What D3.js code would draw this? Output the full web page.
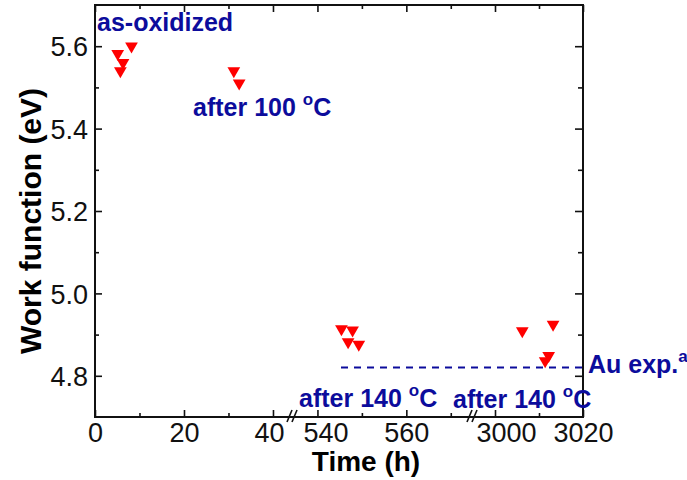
<!DOCTYPE html>
<html>
<head>
<meta charset="utf-8">
<script src="https://cdn.jsdelivr.net/npm/d3@7"></script>
<style>
  html, body { margin: 0; padding: 0; background: #fff; }
  svg { display: block; }
  text { font-family: "Liberation Sans", Arial, sans-serif; }
</style>
</head>
<body>
<svg id="chart" width="687" height="480"></svg>
<script>
// ---- data ----
const timeH = [5.1, 8.2, 6.3, 5.7, 31.2, 32.4, 545.4, 547.9, 546.9, 549.3, 3006.2, 3013.2, 3012.2, 3011.4];
const workFunction = [5.582, 5.600, 5.560, 5.540, 5.540, 5.510, 4.914, 4.911, 4.882, 4.876, 4.909, 4.925, 4.849, 4.836];
const auExpValue = 4.82;
const auExpStart = 545.3;
const xBreaks = [0, 44.5, 534.5, 575, 2995, 3020];
const xMajorTicks = [0, 20, 40, 540, 560, 3000, 3020];
const xMinorTicks = [10, 30, 550, 570, 3010];
const yMajorTicks = [4.8, 5.0, 5.2, 5.4, 5.6];
const yMinorTicks = [4.9, 5.1, 5.3, 5.5];
const yDomain = [4.7, 5.7];
const annotations = [
  {text: "as-oxidized", x: 97, y: 31},
  {text: "after 100 ", deg: true, x: 193, y: 116},
  {text: "after 140 ", deg: true, x: 299, y: 407},
  {text: "after 140 ", deg: true, x: 453, y: 408}
];
const auLabel = "Au exp.";
const xTitle = "Time (h)";
const yTitle = "Work function (eV)";

// ---- layout ----
const L = 95, R = 583, T = 5, B = 417;
const navy = "#0c0c9c";
const labelShift = {40: -4, 540: 8, 3000: 11};

const svg = d3.select("#chart");
const x = d3.scaleLinear().domain(xBreaks).range([L, 293, 293, 473, 473, R]);
const y = d3.scaleLinear().domain(yDomain).range([B, T]);

// axes (ticks inward)
function fmtX(d) { return String(d); }
const gB = svg.append("g").attr("transform", `translate(0,${B})`)
  .call(d3.axisBottom(x).tickValues(xMajorTicks).tickSize(-7).tickPadding(0).tickFormat(fmtX));
gB.selectAll("text").attr("dy", null).attr("y", 25)
  .attr("transform", d => `translate(${labelShift[d] || 0},0)`);
const gBm = svg.append("g").attr("transform", `translate(0,${B})`)
  .call(d3.axisBottom(x).tickValues(xMinorTicks).tickSize(-4).tickFormat(""));
const gT = svg.append("g").attr("transform", `translate(0,${T})`)
  .call(d3.axisTop(x).tickValues(xMajorTicks).tickSize(-7).tickFormat(""));
const gTm = svg.append("g").attr("transform", `translate(0,${T})`)
  .call(d3.axisTop(x).tickValues(xMinorTicks).tickSize(-4).tickFormat(""));
const gL = svg.append("g").attr("transform", `translate(${L},0)`)
  .call(d3.axisLeft(y).tickValues(yMajorTicks).tickSize(-7).tickPadding(7).tickFormat(d3.format(".1f")));
const gLm = svg.append("g").attr("transform", `translate(${L},0)`)
  .call(d3.axisLeft(y).tickValues(yMinorTicks).tickSize(-4).tickFormat(""));
const gR = svg.append("g").attr("transform", `translate(${R},0)`)
  .call(d3.axisRight(y).tickValues(yMajorTicks).tickSize(-8).tickFormat(""));
const gRm = svg.append("g").attr("transform", `translate(${R},0)`)
  .call(d3.axisRight(y).tickValues(yMinorTicks).tickSize(-5).tickFormat(""));

[gB, gBm, gT, gTm, gL, gLm, gR, gRm].forEach(g => {
  g.selectAll(".domain").remove();
  g.selectAll("line").attr("stroke", "#111").attr("stroke-width", 1.6);
  g.selectAll("text").attr("font-size", 27).attr("fill", "#111")
    .attr("font-family", "'Liberation Sans', Arial, sans-serif");
});
gL.selectAll("text").attr("dy", "0.36em");

// frame
svg.append("rect").attr("x", L).attr("y", T).attr("width", R - L).attr("height", B - T)
  .attr("fill", "none").attr("stroke", "#111").attr("stroke-width", 2);

// break marks
[x(44.5), x(575)].forEach(bx => {
  [-3, 2].forEach(o => {
    svg.append("line").attr("x1", bx + o - 3).attr("y1", B + 5).attr("x2", bx + o + 2).attr("y2", B - 7)
      .attr("stroke", "#111").attr("stroke-width", 1.6);
  });
});

// Au reference line
svg.append("line").attr("x1", x(auExpStart)).attr("x2", R)
  .attr("y1", y(auExpValue)).attr("y2", y(auExpValue))
  .attr("stroke", navy).attr("stroke-width", 2).attr("stroke-dasharray", "7,6");

// points
const tri = d3.symbol().type(d3.symbolTriangle).size(70);
svg.append("g").selectAll("path").data(timeH.map((t, i) => [t, workFunction[i]]))
  .join("path").attr("d", tri)
  .attr("transform", d => `translate(${x(d[0])},${y(d[1])}) rotate(180)`)
  .attr("fill", "#ff0000");

// annotations
annotations.forEach(a => {
  const t = svg.append("text").attr("x", a.x).attr("y", a.y)
    .attr("font-size", 25).attr("font-weight", "bold").attr("fill", navy);
  t.append("tspan").text(a.text);
  if (a.deg) {
    t.append("tspan").attr("font-size", 17).attr("dy", -11).text("o");
    t.append("tspan").attr("dy", 11).text("C");
  }
});
const au = svg.append("text").attr("x", 588).attr("y", 373)
  .attr("font-size", 25).attr("font-weight", "bold").attr("fill", navy);
au.append("tspan").text(auLabel);
au.append("tspan").attr("font-size", 17).attr("dy", -11).text("a");

// titles
svg.append("text").attr("x", 366).attr("y", 471).attr("text-anchor", "middle")
  .attr("font-size", 28).attr("font-weight", "bold").attr("fill", "#000").text(xTitle);
svg.append("text").attr("transform", "translate(41,221) rotate(-90)").attr("text-anchor", "middle")
  .attr("font-size", 30).attr("font-weight", "bold").attr("fill", "#000").text(yTitle);
</script>
</body>
</html>
